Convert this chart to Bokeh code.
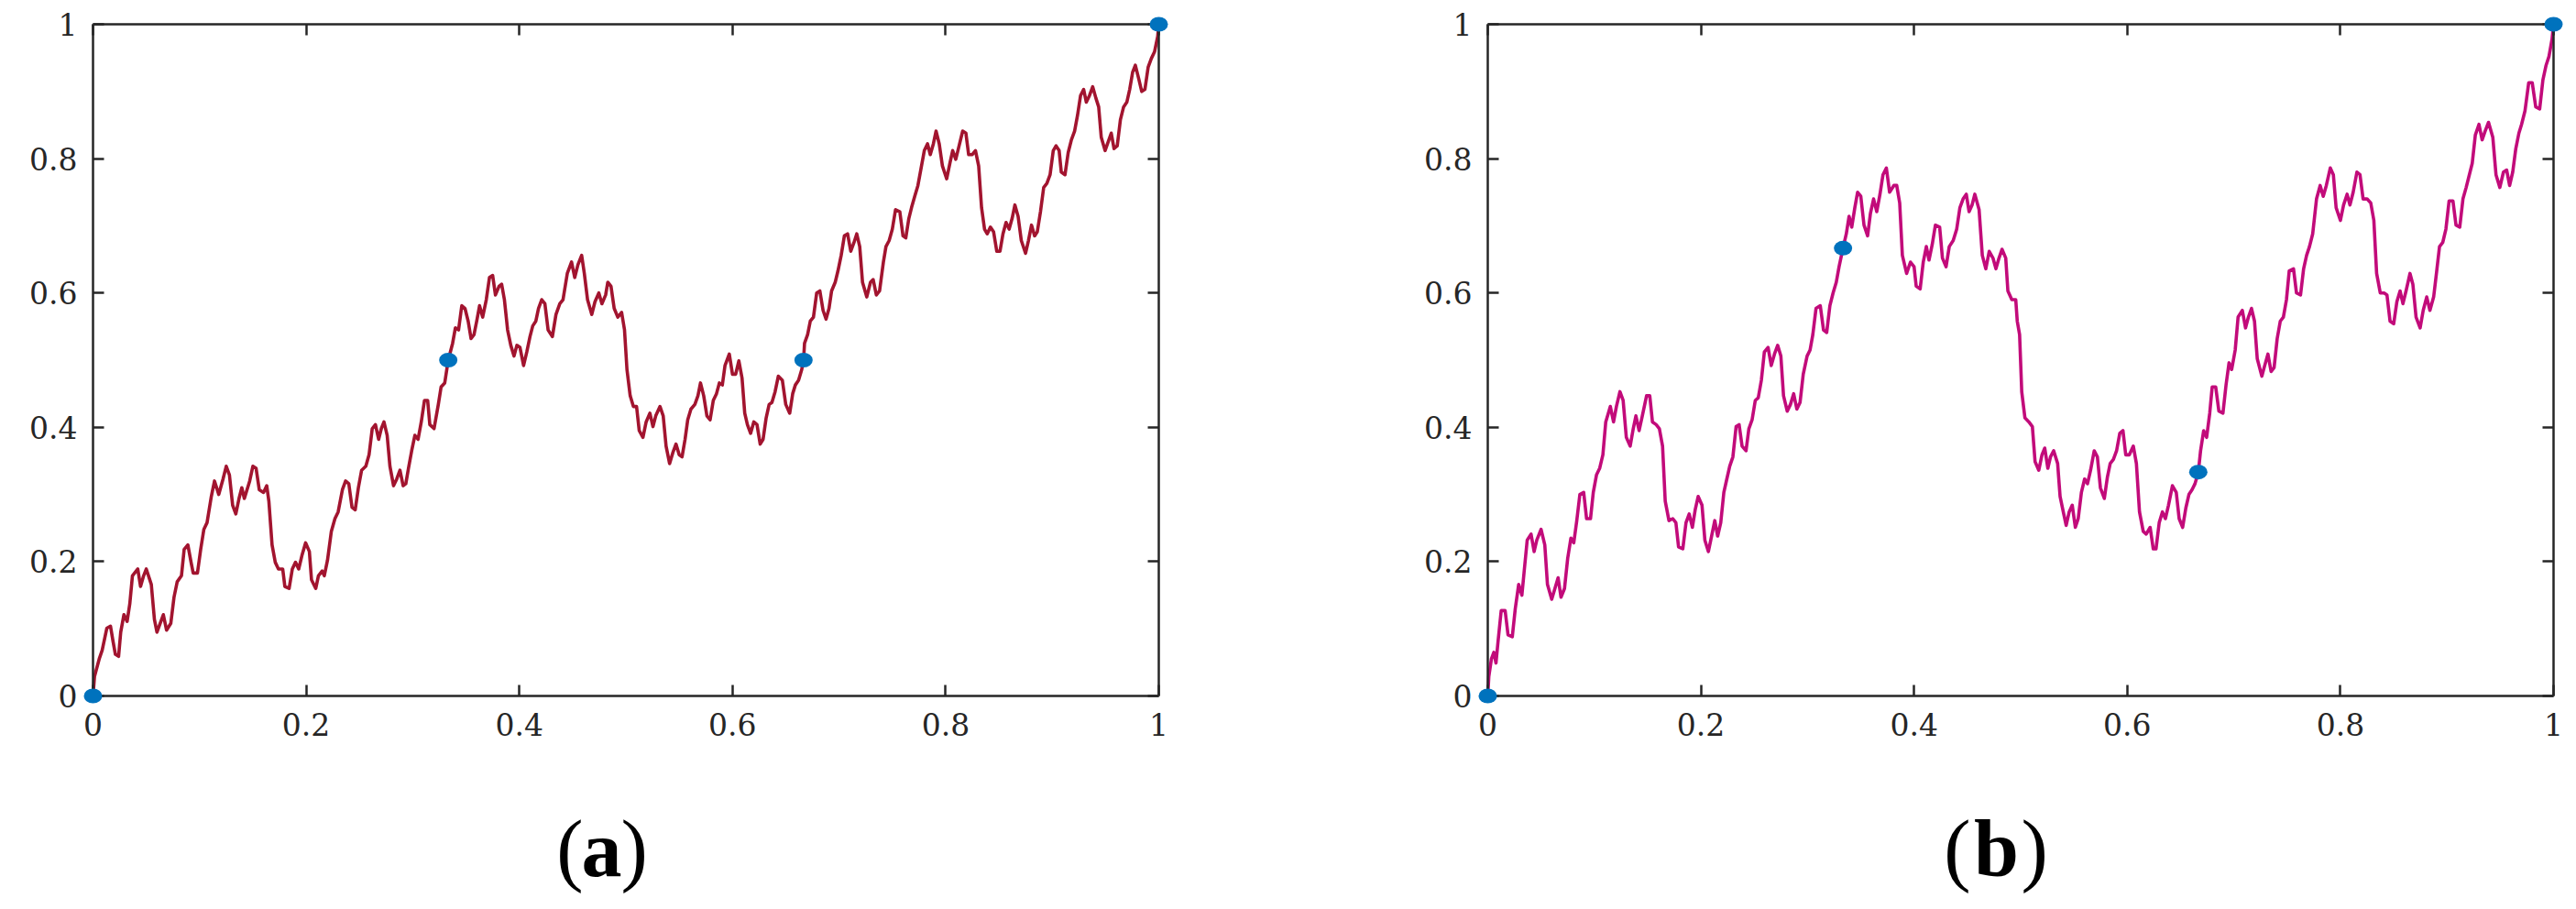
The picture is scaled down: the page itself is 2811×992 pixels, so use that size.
from bokeh.plotting import figure
from bokeh.models import Range1d, LinearAxis, FixedTicker
from bokeh.core.properties import value
from bokeh.layouts import row, column
from bokeh.embed import file_html
from bokeh.resources import INLINE

# ---------------- data ----------------
# interpolation (knot) points shown as blue dots
knots_x = [0, 1/3, 2/3, 1]
knots_ya = [0, 0.5, 0.5, 1]
knots_yb = [0, 2/3, 1/3, 1]

# curve (a), three segments between the knots: (x, y)
a_seg1 = [(0, 0), (0.0014, 0.029), (0.0058, 0.055), (0.0086, 0.068), (0.013, 0.101), (0.0164, 0.104),
          (0.0187, 0.082), (0.021, 0.062), (0.024, 0.059), (0.026, 0.095), (0.029, 0.121), (0.032, 0.111),
          (0.0345, 0.137), (0.037, 0.179), (0.042, 0.189), (0.0446, 0.163), (0.0475, 0.179), (0.050, 0.189),
          (0.0547, 0.166), (0.0576, 0.114), (0.060, 0.095), (0.063, 0.108), (0.066, 0.121), (0.069, 0.098),
          (0.073, 0.108), (0.076, 0.147), (0.079, 0.170), (0.083, 0.179), (0.0855, 0.218), (0.089, 0.225),
          (0.092, 0.199), (0.094, 0.183), (0.098, 0.183), (0.101, 0.218), (0.104, 0.248), (0.107, 0.258),
          (0.111, 0.297), (0.114, 0.320), (0.118, 0.300), (0.122, 0.323), (0.125, 0.342), (0.128, 0.329),
          (0.131, 0.284), (0.134, 0.271), (0.137, 0.294), (0.1396, 0.310), (0.142, 0.294), (0.147, 0.320),
          (0.150, 0.342), (0.153, 0.339), (0.156, 0.307), (0.160, 0.303), (0.163, 0.313), (0.165, 0.290),
          (0.168, 0.225), (0.171, 0.199), (0.174, 0.189), (0.178, 0.189), (0.180, 0.163), (0.184, 0.160),
          (0.187, 0.189), (0.190, 0.199), (0.193, 0.189), (0.196, 0.209), (0.1995, 0.228), (0.203, 0.215),
          (0.205, 0.173), (0.209, 0.160), (0.2115, 0.179), (0.215, 0.186), (0.217, 0.179), (0.220, 0.202),
          (0.2236, 0.245), (0.227, 0.264), (0.230, 0.274), (0.234, 0.307), (0.237, 0.320), (0.240, 0.316),
          (0.243, 0.281), (0.246, 0.277), (0.249, 0.310), (0.252, 0.336), (0.256, 0.342), (0.259, 0.359),
          (0.262, 0.398), (0.265, 0.404), (0.268, 0.382), (0.2705, 0.398), (0.273, 0.408), (0.276, 0.388),
          (0.2786, 0.342), (0.282, 0.313), (0.285, 0.323), (0.288, 0.336), (0.291, 0.313), (0.2935, 0.316),
          (0.296, 0.339), (0.299, 0.365), (0.302, 0.388), (0.305, 0.382), (0.308, 0.408), (0.311, 0.440),
          (0.314, 0.440), (0.316, 0.404), (0.320, 0.398), (0.324, 0.434), (0.3266, 0.460), (0.330, 0.466),
          (0.3333, 0.500)]
a_seg2 = [(0.3374, 0.525), (0.340, 0.548), (0.343, 0.545), (0.346, 0.581), (0.349, 0.577), (0.352, 0.558),
          (0.3547, 0.532), (0.3575, 0.538), (0.360, 0.558), (0.3627, 0.581), (0.3656, 0.564), (0.369, 0.590),
          (0.372, 0.623), (0.375, 0.626), (0.3776, 0.597), (0.381, 0.610), (0.3834, 0.613), (0.386, 0.590),
          (0.389, 0.545), (0.392, 0.522), (0.395, 0.506), (0.3977, 0.522), (0.4006, 0.519), (0.404, 0.492),
          (0.407, 0.512), (0.410, 0.535), (0.4126, 0.551), (0.4155, 0.558), (0.418, 0.577), (0.421, 0.590),
          (0.424, 0.584), (0.427, 0.545), (0.431, 0.535), (0.4344, 0.568), (0.438, 0.584), (0.441, 0.590),
          (0.445, 0.629), (0.449, 0.646), (0.452, 0.623), (0.455, 0.642), (0.4585, 0.656), (0.461, 0.629),
          (0.464, 0.590), (0.468, 0.568), (0.471, 0.587), (0.4746, 0.600), (0.4775, 0.584), (0.481, 0.597),
          (0.483, 0.616), (0.486, 0.610), (0.489, 0.577), (0.4924, 0.564), (0.496, 0.571), (0.4987, 0.545),
          (0.501, 0.486), (0.504, 0.447), (0.507, 0.431), (0.510, 0.431), (0.5125, 0.395), (0.516, 0.385),
          (0.519, 0.408), (0.5225, 0.421), (0.5254, 0.401), (0.528, 0.417), (0.532, 0.431), (0.535, 0.417),
          (0.5377, 0.372), (0.541, 0.346), (0.544, 0.362), (0.547, 0.375), (0.550, 0.359), (0.5527, 0.356),
          (0.5555, 0.382), (0.558, 0.411), (0.561, 0.427), (0.5647, 0.434), (0.5676, 0.447), (0.570, 0.466),
          (0.573, 0.447), (0.576, 0.417), (0.579, 0.411), (0.582, 0.440), (0.585, 0.450), (0.5877, 0.466),
          (0.5905, 0.463), (0.593, 0.492), (0.597, 0.509), (0.600, 0.479), (0.603, 0.479), (0.606, 0.499),
          (0.609, 0.473), (0.6115, 0.421), (0.614, 0.404), (0.617, 0.391), (0.620, 0.408), (0.623, 0.404),
          (0.626, 0.375), (0.6287, 0.382), (0.6316, 0.414), (0.6344, 0.434), (0.637, 0.437), (0.640, 0.453),
          (0.643, 0.476), (0.6468, 0.470), (0.650, 0.434), (0.6537, 0.421), (0.6565, 0.450), (0.659, 0.463),
          (0.662, 0.470), (0.665, 0.486), (0.6667, 0.500)]
a_seg3 = [(0.6676, 0.525), (0.6705, 0.538), (0.673, 0.558), (0.676, 0.564), (0.679, 0.600), (0.682, 0.603),
          (0.685, 0.574), (0.6878, 0.561), (0.6906, 0.577), (0.693, 0.603), (0.6964, 0.616), (0.699, 0.633),
          (0.702, 0.656), (0.705, 0.685), (0.708, 0.688), (0.711, 0.662), (0.714, 0.675), (0.7166, 0.688),
          (0.7194, 0.669), (0.722, 0.616), (0.726, 0.594), (0.7295, 0.616), (0.732, 0.620), (0.735, 0.597),
          (0.738, 0.603), (0.7416, 0.646), (0.744, 0.669), (0.747, 0.678), (0.750, 0.695), (0.753, 0.724),
          (0.757, 0.721), (0.760, 0.685), (0.7626, 0.682), (0.7655, 0.711), (0.768, 0.727), (0.771, 0.744),
          (0.774, 0.760), (0.777, 0.786), (0.780, 0.812), (0.783, 0.822), (0.7856, 0.806), (0.7885, 0.822),
          (0.791, 0.841), (0.794, 0.822), (0.797, 0.789), (0.801, 0.770), (0.804, 0.793), (0.8066, 0.812),
          (0.8095, 0.799), (0.812, 0.815), (0.816, 0.841), (0.819, 0.838), (0.8216, 0.806), (0.825, 0.806),
          (0.828, 0.812), (0.831, 0.789), (0.8337, 0.727), (0.8365, 0.695), (0.839, 0.688), (0.842, 0.698),
          (0.845, 0.691), (0.848, 0.662), (0.851, 0.662), (0.8538, 0.688), (0.8567, 0.705), (0.8596, 0.695),
          (0.8624, 0.711), (0.865, 0.731), (0.868, 0.714), (0.871, 0.678), (0.875, 0.659), (0.8777, 0.678),
          (0.8806, 0.701), (0.8835, 0.685), (0.886, 0.691), (0.889, 0.721), (0.892, 0.757), (0.895, 0.763),
          (0.898, 0.776), (0.901, 0.812), (0.9036, 0.819), (0.9065, 0.812), (0.9085, 0.780), (0.912, 0.776),
          (0.915, 0.809), (0.918, 0.828), (0.921, 0.841), (0.9237, 0.864), (0.9266, 0.894), (0.9295, 0.903),
          (0.932, 0.884), (0.935, 0.894), (0.938, 0.907), (0.941, 0.890), (0.9436, 0.877), (0.946, 0.832),
          (0.9496, 0.812), (0.9525, 0.825), (0.9554, 0.838), (0.958, 0.815), (0.961, 0.819), (0.964, 0.858),
          (0.967, 0.877), (0.970, 0.884), (0.9727, 0.903), (0.9755, 0.929), (0.978, 0.939), (0.981, 0.920),
          (0.984, 0.900), (0.987, 0.903), (0.990, 0.936), (0.993, 0.949), (0.996, 0.959), (0.999, 0.982),
          (1.0, 1.0)]

# curve (b)
b_seg1 = [(0, 0), (0.001, 0.029), (0.0034, 0.055), (0.0057, 0.065), (0.0077, 0.049), (0.0097, 0.082),
          (0.0126, 0.127), (0.0163, 0.127), (0.019, 0.091), (0.023, 0.088), (0.0258, 0.130), (0.029, 0.166),
          (0.032, 0.150), (0.034, 0.183), (0.037, 0.232), (0.0406, 0.241), (0.0435, 0.215), (0.046, 0.232),
          (0.050, 0.248), (0.0535, 0.225), (0.056, 0.166), (0.060, 0.144), (0.063, 0.160), (0.066, 0.176),
          (0.0687, 0.147), (0.072, 0.160), (0.075, 0.205), (0.078, 0.235), (0.0807, 0.228), (0.0835, 0.261),
          (0.0864, 0.300), (0.090, 0.303), (0.0927, 0.264), (0.0964, 0.264), (0.099, 0.303), (0.102, 0.329),
          (0.105, 0.339), (0.108, 0.359), (0.1107, 0.408), (0.115, 0.431), (0.118, 0.408), (0.1207, 0.431),
          (0.124, 0.453), (0.127, 0.440), (0.130, 0.385), (0.1336, 0.372), (0.1365, 0.398), (0.139, 0.417),
          (0.142, 0.395), (0.145, 0.417), (0.149, 0.447), (0.152, 0.447), (0.1545, 0.408), (0.158, 0.404),
          (0.161, 0.398), (0.164, 0.372), (0.1665, 0.290), (0.170, 0.261), (0.1736, 0.264), (0.1765, 0.258),
          (0.179, 0.222), (0.183, 0.219), (0.186, 0.258), (0.189, 0.271), (0.192, 0.251), (0.1946, 0.277),
          (0.1974, 0.297), (0.201, 0.284), (0.2037, 0.232), (0.207, 0.215), (0.210, 0.238), (0.213, 0.261),
          (0.2157, 0.238), (0.2186, 0.258), (0.2215, 0.303), (0.2243, 0.323), (0.227, 0.342), (0.230, 0.356),
          (0.233, 0.401), (0.2358, 0.404), (0.2386, 0.372), (0.2423, 0.365), (0.245, 0.398), (0.248, 0.411),
          (0.251, 0.440), (0.2538, 0.444), (0.2567, 0.470), (0.2595, 0.512), (0.263, 0.519), (0.266, 0.492),
          (0.269, 0.509), (0.272, 0.522), (0.275, 0.506), (0.2775, 0.447), (0.281, 0.424), (0.284, 0.434),
          (0.287, 0.450), (0.290, 0.427), (0.293, 0.437), (0.296, 0.479), (0.2996, 0.506), (0.3024, 0.515),
          (0.305, 0.538), (0.308, 0.577), (0.312, 0.581), (0.315, 0.545), (0.318, 0.541), (0.321, 0.581),
          (0.324, 0.600), (0.327, 0.616), (0.3296, 0.639), (0.3333, 0.6667)]
b_seg2 = [(0.3364, 0.688), (0.339, 0.714), (0.3415, 0.698), (0.3444, 0.727), (0.347, 0.750), (0.350, 0.744),
          (0.353, 0.701), (0.3564, 0.685), (0.359, 0.718), (0.362, 0.740), (0.365, 0.721), (0.368, 0.747),
          (0.3708, 0.776), (0.374, 0.786), (0.377, 0.750), (0.381, 0.760), (0.3837, 0.760), (0.3865, 0.734),
          (0.389, 0.656), (0.393, 0.629), (0.3966, 0.646), (0.400, 0.639), (0.402, 0.610), (0.4057, 0.606),
          (0.4086, 0.646), (0.4115, 0.669), (0.414, 0.649), (0.417, 0.672), (0.420, 0.701), (0.424, 0.698),
          (0.4266, 0.652), (0.430, 0.639), (0.433, 0.669), (0.4367, 0.678), (0.440, 0.695), (0.443, 0.727),
          (0.446, 0.740), (0.449, 0.747), (0.4516, 0.721), (0.4544, 0.731), (0.457, 0.747), (0.461, 0.724),
          (0.464, 0.656), (0.4673, 0.636), (0.4705, 0.662), (0.474, 0.652), (0.4768, 0.636), (0.4797, 0.652),
          (0.4825, 0.665), (0.486, 0.652), (0.488, 0.603), (0.4917, 0.590), (0.4954, 0.590), (0.4968, 0.558),
          (0.499, 0.538), (0.501, 0.453), (0.504, 0.414), (0.5077, 0.408), (0.511, 0.401), (0.5135, 0.349),
          (0.517, 0.336), (0.520, 0.359), (0.5226, 0.369), (0.5255, 0.339), (0.528, 0.356), (0.531, 0.365),
          (0.5347, 0.346), (0.537, 0.297), (0.540, 0.274), (0.5427, 0.254), (0.5455, 0.274), (0.5484, 0.284),
          (0.5513, 0.251), (0.554, 0.264), (0.557, 0.303), (0.560, 0.323), (0.5627, 0.316), (0.5656, 0.336),
          (0.569, 0.365), (0.572, 0.356), (0.5748, 0.310), (0.5785, 0.294), (0.5814, 0.326), (0.584, 0.346),
          (0.587, 0.352), (0.590, 0.365), (0.593, 0.391), (0.596, 0.395), (0.5986, 0.359), (0.602, 0.359),
          (0.6057, 0.372), (0.6086, 0.346), (0.6115, 0.274), (0.615, 0.245), (0.6178, 0.241), (0.6215, 0.251),
          (0.6244, 0.219), (0.627, 0.219), (0.630, 0.258), (0.633, 0.274), (0.6358, 0.264), (0.6387, 0.284),
          (0.6424, 0.313), (0.646, 0.303), (0.6487, 0.264), (0.652, 0.251), (0.655, 0.280), (0.6579, 0.300),
          (0.6608, 0.307), (0.6636, 0.316), (0.6667, 0.3333)]
b_seg3 = [(0.6688, 0.365), (0.6717, 0.395), (0.6745, 0.385), (0.6774, 0.421), (0.6797, 0.460), (0.683, 0.460),
          (0.686, 0.424), (0.6898, 0.421), (0.6927, 0.463), (0.6955, 0.496), (0.698, 0.486), (0.7013, 0.515),
          (0.704, 0.564), (0.708, 0.574), (0.711, 0.548), (0.7137, 0.564), (0.7166, 0.577), (0.7194, 0.558),
          (0.722, 0.502), (0.7263, 0.476), (0.729, 0.492), (0.732, 0.509), (0.735, 0.483), (0.7378, 0.489),
          (0.7407, 0.532), (0.7436, 0.558), (0.7465, 0.564), (0.7494, 0.590), (0.752, 0.633), (0.756, 0.636),
          (0.7588, 0.600), (0.7626, 0.597), (0.7655, 0.636), (0.7683, 0.656), (0.771, 0.669), (0.774, 0.688),
          (0.7776, 0.740), (0.781, 0.760), (0.7839, 0.744), (0.7868, 0.760), (0.7905, 0.786), (0.7934, 0.776),
          (0.796, 0.727), (0.800, 0.708), (0.803, 0.731), (0.8063, 0.747), (0.809, 0.731), (0.812, 0.750),
          (0.8155, 0.780), (0.8184, 0.776), (0.8213, 0.740), (0.825, 0.740), (0.8285, 0.734), (0.8314, 0.708),
          (0.834, 0.629), (0.8374, 0.600), (0.841, 0.600), (0.8437, 0.597), (0.8466, 0.558), (0.850, 0.554),
          (0.853, 0.587), (0.856, 0.603), (0.8587, 0.584), (0.8616, 0.603), (0.8653, 0.629), (0.868, 0.613),
          (0.871, 0.564), (0.8748, 0.548), (0.8777, 0.574), (0.881, 0.594), (0.884, 0.574), (0.8875, 0.594),
          (0.8904, 0.633), (0.893, 0.669), (0.896, 0.675), (0.899, 0.695), (0.902, 0.737), (0.9056, 0.737),
          (0.9085, 0.701), (0.912, 0.698), (0.915, 0.740), (0.918, 0.757), (0.921, 0.776), (0.9237, 0.793),
          (0.9266, 0.835), (0.930, 0.851), (0.933, 0.828), (0.9358, 0.841), (0.939, 0.854), (0.943, 0.832),
          (0.946, 0.776), (0.9496, 0.757), (0.953, 0.780), (0.956, 0.783), (0.9588, 0.760), (0.9617, 0.780),
          (0.9646, 0.815), (0.9675, 0.838), (0.970, 0.851), (0.9732, 0.871), (0.9767, 0.913), (0.980, 0.913),
          (0.9833, 0.877), (0.987, 0.874), (0.990, 0.917), (0.993, 0.939), (0.9957, 0.952), (0.9986, 0.978),
          (1.0, 1.0)]

TICKS = [0, 0.2, 0.4, 0.6, 0.8, 1]
TICK_LABELS = ["0", "0.2", "0.4", "0.6", "0.8", "1"]
CAPTIONS = ["a", "b"]

# ---------------- layout / style ----------------
AXIS_COLOR = "#262626"
DOT_COLOR = "#0072BD"
H_PLOT = 830          # height of the plot row
H_CAP = 162           # height of the caption row
BOX_W, BOX_H = 1163, 733
PAD = 14
TOP = 26
CAP_FONT = "88px"
CAP_BASE = 66         # caption baseline, px above the bottom of the caption row


def box_axis(loc):
    ax = LinearAxis(fixed_location=loc, ticker=FixedTicker(ticks=TICKS))
    ax.bounds = (0, 1)
    ax.axis_line_color = AXIS_COLOR
    ax.axis_line_width = 2.5
    ax.major_tick_line_color = AXIS_COLOR
    ax.major_tick_line_width = 2.5
    ax.major_tick_in = 12
    ax.major_tick_out = 0
    ax.minor_tick_line_color = None
    ax.major_label_overrides = {t: "" for t in TICKS}
    ax.major_label_text_font_size = "0px"
    ax.major_label_standoff = 0
    return ax


def label_axis(standoff):
    ax = LinearAxis(ticker=FixedTicker(ticks=TICKS))
    ax.axis_line_color = None
    ax.major_tick_line_color = None
    ax.minor_tick_line_color = None
    ax.major_tick_in = 0
    ax.major_tick_out = 0
    ax.major_label_overrides = dict(zip(TICKS, TICK_LABELS))
    ax.major_label_text_font = "DejaVu Serif"
    ax.major_label_text_font_size = "33px"
    ax.major_label_text_color = AXIS_COLOR
    ax.major_label_standoff = standoff
    return ax


def make_panel(segs, ky, color, width, box_left):
    xs = [x for s in segs for x, _ in s]
    ys = [y for s in segs for _, y in s]
    box_right = width - box_left - BOX_W
    px, py = PAD / BOX_W, PAD / BOX_H
    p = figure(width=width, height=H_PLOT,
               x_range=Range1d(-px, 1 + px), y_range=Range1d(-py, 1 + py),
               x_axis_type=None, y_axis_type=None,
               output_backend="svg", toolbar_location=None,
               min_border_left=box_left - PAD, min_border_right=box_right - PAD,
               min_border_top=TOP - PAD, min_border_bottom=H_PLOT - TOP - BOX_H - PAD)
    p.outline_line_color = None
    p.background_fill_color = "white"
    p.border_fill_color = "white"

    # box with inward ticks on all four sides
    p.add_layout(box_axis(0), "below")
    p.add_layout(box_axis(1), "above")
    p.add_layout(box_axis(0), "left")
    p.add_layout(box_axis(1), "right")
    # tick labels (left and bottom)
    p.add_layout(label_axis(4), "below")
    p.add_layout(label_axis(3), "left")

    p.line(xs, ys, line_color=color, line_width=3.6, line_join="round")
    p.ellipse(x=knots_x, y=ky, width=20, height=16, width_units="screen", height_units="screen",
              fill_color=DOT_COLOR, line_color=None, level="overlay")
    return p


def make_caption(letter, width, cx, half_left, half_right):
    c = figure(width=width, height=H_CAP, x_range=Range1d(0, width), y_range=Range1d(0, H_CAP),
               x_axis_location=None, y_axis_location=None, output_backend="svg",
               toolbar_location=None, min_border=0)
    c.title.visible = False
    c.outline_line_color = None
    c.grid.visible = False
    c.border_fill_color = "white"
    c.text(x=[cx], y=[CAP_BASE], text=["("], x_offset=-half_left, text_align="right",
           text_baseline="alphabetic", text_font=value("Liberation Serif"),
           text_font_size=CAP_FONT, text_color="black")
    c.text(x=[cx], y=[CAP_BASE], text=[letter], text_align="center", text_baseline="alphabetic",
           text_font=value("Liberation Serif"), text_font_style="bold",
           text_font_size=CAP_FONT, text_color="black")
    c.text(x=[cx], y=[CAP_BASE], text=[")"], x_offset=half_right, text_align="left",
           text_baseline="alphabetic", text_font=value("Liberation Serif"),
           text_font_size=CAP_FONT, text_color="black")
    return c


W_A, W_B = 1400, 1411
pa = make_panel([a_seg1, a_seg2, a_seg3], knots_ya, "#A2142F", W_A, 101)
pb = make_panel([b_seg1, b_seg2, b_seg3], knots_yb, "#C20B7A", W_B, 223)
ca = make_caption(CAPTIONS[0], W_A, 656, 20, 21)
cb = make_caption(CAPTIONS[1], W_B, 778, 28, 27)

layout = column(row(pa, pb), row(ca, cb))
open("out.html", "w").write(file_html(layout, INLINE))
